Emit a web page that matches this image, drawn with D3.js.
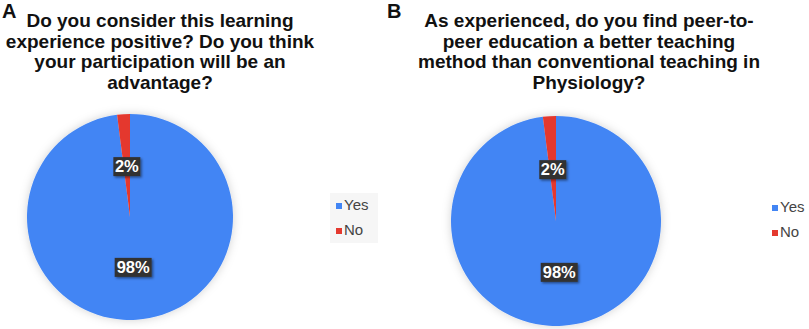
<!DOCTYPE html>
<html><head><meta charset="utf-8">
<script src="https://cdn.jsdelivr.net/npm/d3@7"></script>
<style>
body{margin:0;background:#fff;}
svg{display:block;font-family:"Liberation Sans",Arial,sans-serif;}
</style></head>
<body>
<svg id="c" width="809" height="329"></svg>
<script>
const categories = ["Yes", "No"];
const valuesA = [98, 2];
const valuesB = [98, 2];
const titleA = ["Do you consider this learning", "experience positive? Do you think", "your participation will be an", "advantage?"];
const titleB = ["As experienced, do you find peer-to-", "peer education a better teaching", "method than conventional teaching in", "Physiology?"];
const panelLetters = ["A", "B"];
const colors = ["#4285f4", "#e4392f"];

const svg = d3.select("#c");
const defs = svg.append("defs");
const f = defs.append("filter").attr("id","sh").attr("x","-20%").attr("y","-20%").attr("width","140%").attr("height","140%");
f.append("feDropShadow").attr("dx",0).attr("dy",0).attr("stdDeviation",5).attr("flood-color","#000").attr("flood-opacity",0.18);
const f2 = defs.append("filter").attr("id","lsh").attr("x","-30%").attr("y","-30%").attr("width","160%").attr("height","160%");
f2.append("feDropShadow").attr("dx",1.5).attr("dy",1.5).attr("stdDeviation",1).attr("flood-color","#000").attr("flood-opacity",0.45);

const color = d3.scaleOrdinal().domain(categories).range(colors);
const pie = d3.pie().sort(null).value(d => d.v);

const panels = [
  {letter: panelLetters[0], lx: 2, title: titleA, tx: 160, values: valuesA, cx: 130, cy: 217, r: 103, legX: 336, legY: 203, legBox: [330, 193, 48, 50]},
  {letter: panelLetters[1], lx: 387, title: titleB, tx: 589, values: valuesB, cx: 556, cy: 221, r: 105, legX: 772, legY: 205, legBox: null}
];

panels.forEach(p => {
  const g = svg.append("g");
  g.append("text").attr("x", p.lx).attr("y", 18).attr("font-size", 20).attr("font-weight", "bold").attr("fill", "#111").text(p.letter);
  g.append("text").attr("text-anchor","middle").attr("font-size",19).attr("font-weight","bold").attr("fill","#111")
    .selectAll("tspan").data(p.title).join("tspan")
    .attr("x", p.tx).attr("y", (d,i) => 27 + i*20.5).text(d => d);

  if (p.legBox) {
    g.append("rect").attr("x",p.legBox[0]).attr("y",p.legBox[1]).attr("width",p.legBox[2]).attr("height",p.legBox[3]).attr("fill","#f6f6f6");
  }

  const data = categories.map((c,i) => ({c, v: p.values[i]}));
  const arcs = pie(data);
  const arc = d3.arc().innerRadius(0).outerRadius(p.r);
  const pg = g.append("g").attr("transform", `translate(${p.cx},${p.cy})`);
  pg.append("g").attr("filter","url(#sh)").selectAll("path").data(arcs).join("path")
    .attr("d", arc).attr("fill", d => color(d.data.c));

  arcs.forEach(a => {
    const mid = (a.startAngle + a.endAngle)/2;
    const d = p.r*0.49;
    const x = Math.sin(mid)*d, y = -Math.cos(mid)*d;
    const txt = a.data.v + "%";
    const w = txt.length === 2 ? 27 : 37;
    const lg = pg.append("g").attr("transform", `translate(${x},${y})`);
    lg.append("rect").attr("x", -w/2).attr("y", -9.5).attr("width", w).attr("height", 19).attr("fill", "#333").attr("filter","url(#lsh)");
    lg.append("text").attr("text-anchor","middle").attr("y", 5.8).attr("font-size", 16.5).attr("font-weight","bold").attr("fill","#fff").text(txt);
  });

  categories.forEach((c,i) => {
    g.append("rect").attr("x", p.legX).attr("y", p.legY + i*25).attr("width", 6).attr("height", 6).attr("fill", color(c));
    g.append("text").attr("x", p.legX + 8).attr("y", p.legY + 7 + i*25).attr("font-size", 15).attr("fill", "#444").text(c);
  });
});
</script>
</body></html>
